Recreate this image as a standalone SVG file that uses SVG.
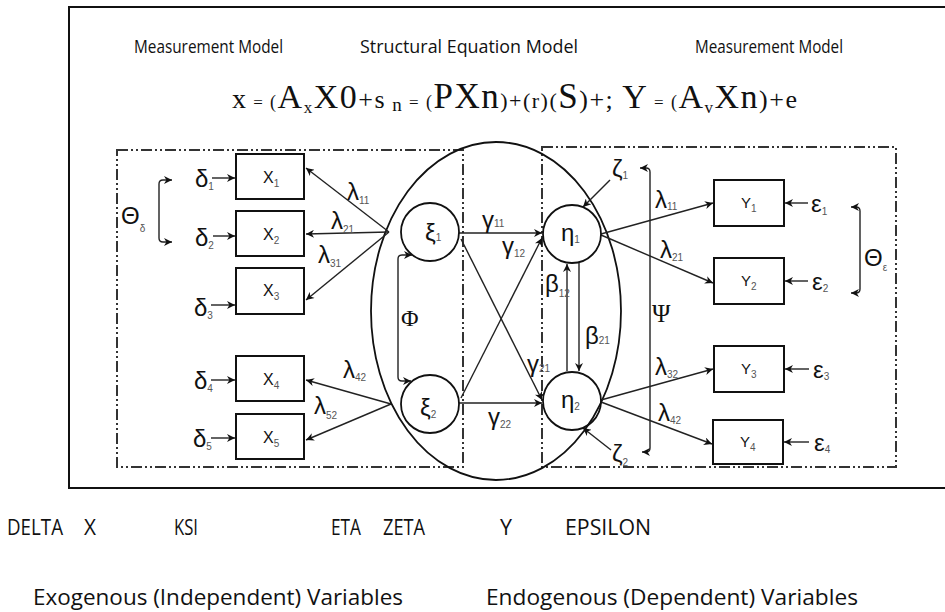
<svg xmlns="http://www.w3.org/2000/svg" width="945" height="612" viewBox="0 0 945 612">
<defs>
<style>
.frame{fill:none;stroke:#111;stroke-width:2}
.dash{fill:none;stroke:#333;stroke-width:2;stroke-dasharray:11 3 2 3 2 3}
.box{fill:none;stroke:#111;stroke-width:2}
.circ{fill:none;stroke:#111;stroke-width:1.8}
.ell{fill:none;stroke:#111;stroke-width:1.8}
.edge{fill:none;stroke:#222;stroke-width:1.4}
.arr{marker-end:url(#ah)}
.both{marker-start:url(#ah);marker-end:url(#ah)}
.t{font-family:"Liberation Sans",Arial,sans-serif;fill:#111}
.g{font-family:"Liberation Sans",Arial,sans-serif;fill:#111;font-size:24px}
.cap{font-family:"Open Sans","Noto Sans",sans-serif;fill:#111}
.eq{font-family:"Liberation Serif","Times New Roman",serif;fill:#111}
.sub{font-family:"Liberation Sans",Arial,sans-serif;font-size:10px;fill:#555}
</style>
<marker id="ah" viewBox="0 0 10 10" refX="10" refY="5" markerWidth="9" markerHeight="8" markerUnits="userSpaceOnUse" orient="auto-start-reverse">
<path d="M0,0 L10,5 L0,10 L3,5 z" fill="#111"/>
</marker>
</defs>

<rect x="69" y="7" width="885" height="481" class="frame"/>

<g id="headings">
<text class="cap" x="134" y="53" font-size="18" textLength="149" lengthAdjust="spacingAndGlyphs">Measurement Model</text>
<text class="cap" x="360" y="53" font-size="18" textLength="218" lengthAdjust="spacingAndGlyphs">Structural Equation Model</text>
<text class="cap" x="695" y="53" font-size="18" textLength="148" lengthAdjust="spacingAndGlyphs">Measurement Model</text>
<text class="eq" x="232" y="108" textLength="565" lengthAdjust="spacing"><tspan font-size="28">x</tspan><tspan font-size="17"> = </tspan><tspan font-size="18">(</tspan><tspan font-size="34">A</tspan><tspan font-size="17" dy="5">x</tspan><tspan font-size="34" dy="-5">X0</tspan><tspan font-size="26">+s</tspan><tspan font-size="19" dy="3"> n</tspan><tspan font-size="17" dy="-3"> = </tspan><tspan font-size="18">(</tspan><tspan font-size="35">PXn</tspan><tspan font-size="22">)+(r)(</tspan><tspan font-size="35">S</tspan><tspan font-size="26">)+; </tspan><tspan font-size="34">Y</tspan><tspan font-size="17"> = </tspan><tspan font-size="18">(</tspan><tspan font-size="34">A</tspan><tspan font-size="17" dy="5">v</tspan><tspan font-size="34" dy="-5">Xn</tspan><tspan font-size="26">)+e</tspan></text>
</g>

<g id="regions">
<rect x="117" y="150" width="346" height="317" class="dash"/>
<rect x="542" y="147" width="354" height="320" class="dash"/>
<ellipse cx="496" cy="311" rx="125" ry="169" class="ell"/>
</g>

<g id="connectors">
<path class="edge arr" d="M212,178 L235,178"/>
<path class="edge arr" d="M213,236 L235,236"/>
<path class="edge arr" d="M211,305 L235,305"/>
<path class="edge arr" d="M211,380 L235,380"/>
<path class="edge arr" d="M211,438 L235,438"/>
<path class="edge both" d="M172,180 L163,180 Q159,180 159,184 L159,238 Q159,242 163,242 L172,242"/>
<path class="edge arr" d="M389,232 L306,168"/>
<path class="edge arr" d="M389,232 L306,234"/>
<path class="edge arr" d="M389,232 L306,300"/>
<path class="edge arr" d="M391,404 L306,380"/>
<path class="edge arr" d="M391,404 L306,440"/>
<path class="edge both" d="M412,255 L402,255 Q398,255 398,259 L398,377 Q398,381 402,381 L411,381"/>
<path class="edge arr" d="M459,233 L542,233"/>
<path class="edge arr" d="M459,403 L542,403"/>
<path class="edge arr" d="M461,239 L542,400"/>
<path class="edge arr" d="M461,398 L542,238"/>
<path class="edge arr" d="M567,371 L567,264"/>
<path class="edge arr" d="M579,263 L579,371"/>
<path class="edge arr" d="M610,180 L583,207"/>
<path class="edge arr" d="M611,450 L583,428"/>
<path class="edge both" d="M640,168 L646,168 Q650,168 650,172 L650,448 Q650,452 646,452 L642,452"/>
<path class="edge arr" d="M601,234 L713,203"/>
<path class="edge arr" d="M601,235 L713,283"/>
<path class="edge arr" d="M601,400 L713,369"/>
<path class="edge arr" d="M601,402 L712,444"/>
<path class="edge arr" d="M808,203 L785,203"/>
<path class="edge arr" d="M808,281 L785,281"/>
<path class="edge arr" d="M809,369 L785,369"/>
<path class="edge arr" d="M809,442 L784,442"/>
<path class="edge both" d="M851,207 L856,207 Q860,207 860,211 L860,289 Q860,293 856,293 L851,293"/>
</g>

<g id="connector-labels">
<text class="g" x="121" y="224" font-size="25">Θ<tspan class="sub" font-size="13" dy="8">δ</tspan></text>
<text class="g" x="347" y="200" font-size="23">λ<tspan class="sub" dy="4">11</tspan></text>
<text class="g" x="331" y="229" font-size="23">λ<tspan class="sub" dy="4">21</tspan></text>
<text class="g" x="318" y="263" font-size="23">λ<tspan class="sub" dy="4">31</tspan></text>
<text class="g" x="343" y="378" font-size="23">λ<tspan class="sub" dy="3">42</tspan></text>
<text class="g" x="314" y="414" font-size="23">λ<tspan class="sub" dy="5">52</tspan></text>
<text class="eq" x="401" y="326" font-size="24">Φ</text>
<text class="g" x="482" y="228" font-size="22">γ<tspan class="sub" dy="-1">11</tspan></text>
<text class="g" x="502" y="254" font-size="22">γ<tspan class="sub" dy="3">12</tspan></text>
<text class="g" x="527" y="372" font-size="22">γ<tspan class="sub" dy="0">21</tspan></text>
<text class="g" x="488" y="425" font-size="22">γ<tspan class="sub" dy="3">22</tspan></text>
<text class="g" x="545" y="292" font-size="23">β<tspan class="sub" dy="5">12</tspan></text>
<text class="g" x="585" y="344" font-size="23">β<tspan class="sub" dy="0">21</tspan></text>
<text class="g" x="612" y="177" font-size="22">ζ<tspan class="sub" font-size="7" dy="2">1</tspan></text>
<text class="g" x="612" y="462" font-size="22">ζ<tspan class="sub" dy="4">2</tspan></text>
<text class="eq" x="652" y="322" font-size="25">Ψ</text>
<text class="g" x="655" y="208" font-size="23">λ<tspan class="sub" dy="2">11</tspan></text>
<text class="g" x="660" y="258" font-size="23">λ<tspan class="sub" dy="3">21</tspan></text>
<text class="g" x="655" y="375" font-size="23">λ<tspan class="sub" dy="3">32</tspan></text>
<text class="g" x="658" y="421" font-size="23">λ<tspan class="sub" dy="3">42</tspan></text>
<text class="g" x="864" y="266" font-size="25">Θ<tspan class="sub" font-size="13" dy="5">ε</tspan></text>
</g>

<g id="delta1"><text class="g" x="195" y="187">δ<tspan class="sub" dy="3">1</tspan></text></g>
<g id="delta2"><text class="g" x="195" y="246">δ<tspan class="sub" dy="3">2</tspan></text></g>
<g id="delta3"><text class="g" x="194" y="316">δ<tspan class="sub" dy="3">3</tspan></text></g>
<g id="delta4"><text class="g" x="194" y="389">δ<tspan class="sub" dy="3">4</tspan></text></g>
<g id="delta5"><text class="g" x="193" y="447">δ<tspan class="sub" dy="3">5</tspan></text></g>

<g id="x1"><rect class="box" x="236" y="154" width="68" height="45"/><text class="t" x="263" y="183" font-size="16">X<tspan class="sub" font-size="9" dy="4">1</tspan></text></g>
<g id="x2"><rect class="box" x="236" y="211" width="68" height="45"/><text class="t" x="263" y="240" font-size="16">X<tspan class="sub" font-size="9" dy="4">2</tspan></text></g>
<g id="x3"><rect class="box" x="236" y="268" width="68" height="46"/><text class="t" x="263" y="296" font-size="16">X<tspan class="sub" font-size="9" dy="4">3</tspan></text></g>
<g id="x4"><rect class="box" x="236" y="356" width="68" height="45"/><text class="t" x="263" y="385" font-size="16">X<tspan class="sub" font-size="9" dy="4">4</tspan></text></g>
<g id="x5"><rect class="box" x="236" y="414" width="68" height="45"/><text class="t" x="263" y="443" font-size="16">X<tspan class="sub" font-size="9" dy="4">5</tspan></text></g>

<g id="ksi1"><circle class="circ" cx="430" cy="232" r="29"/><text class="g" x="425" y="241">ξ<tspan class="sub" font-size="7" dy="0">1</tspan></text></g>
<g id="ksi2"><circle class="circ" cx="430" cy="404" r="29"/><text class="g" x="420" y="416">ξ<tspan class="sub" font-size="8" dy="2">2</tspan></text></g>
<g id="eta1"><circle class="circ" cx="572" cy="234" r="29"/><text class="g" x="561" y="241">η<tspan class="sub" dy="2">1</tspan></text></g>
<g id="eta2"><circle class="circ" cx="572" cy="401" r="29"/><text class="g" x="561" y="408">η<tspan class="sub" dy="2">2</tspan></text></g>

<g id="y1"><rect class="box" x="714" y="180" width="70" height="46"/><text class="t" x="741" y="208" font-size="15">Y<tspan class="sub" font-size="9" dy="4">1</tspan></text></g>
<g id="y2"><rect class="box" x="714" y="258" width="70" height="46"/><text class="t" x="741" y="286" font-size="15">Y<tspan class="sub" font-size="9" dy="4">2</tspan></text></g>
<g id="y3"><rect class="box" x="714" y="346" width="70" height="46"/><text class="t" x="741" y="374" font-size="15">Y<tspan class="sub" font-size="9" dy="4">3</tspan></text></g>
<g id="y4"><rect class="box" x="713" y="420" width="70" height="44"/><text class="t" x="740" y="447" font-size="15">Y<tspan class="sub" font-size="9" dy="4">4</tspan></text></g>

<g id="eps1"><text class="g" x="811" y="212" font-size="27">ε<tspan class="sub" dy="3">1</tspan></text></g>
<g id="eps2"><text class="g" x="812" y="290" font-size="27">ε<tspan class="sub" dy="2">2</tspan></text></g>
<g id="eps3"><text class="g" x="813" y="378" font-size="27">ε<tspan class="sub" dy="2">3</tspan></text></g>
<g id="eps4"><text class="g" x="814" y="451" font-size="27">ε<tspan class="sub" dy="2">4</tspan></text></g>

<g id="legend">
<text class="cap" x="7" y="535" font-size="21" textLength="56" lengthAdjust="spacingAndGlyphs">DELTA</text>
<text class="cap" x="84" y="535" font-size="21" textLength="12" lengthAdjust="spacingAndGlyphs">X</text>
<text class="cap" x="174" y="535" font-size="21" textLength="24" lengthAdjust="spacingAndGlyphs">KSI</text>
<text class="cap" x="331" y="535" font-size="21" textLength="30" lengthAdjust="spacingAndGlyphs">ETA</text>
<text class="cap" x="383" y="535" font-size="21" textLength="42" lengthAdjust="spacingAndGlyphs">ZETA</text>
<text class="cap" x="500" y="535" font-size="21" textLength="12" lengthAdjust="spacingAndGlyphs">Y</text>
<text class="cap" x="565" y="535" font-size="21" textLength="86" lengthAdjust="spacingAndGlyphs">EPSILON</text>
<text class="cap" x="33" y="605" font-size="22" textLength="370" lengthAdjust="spacingAndGlyphs">Exogenous (Independent) Variables</text>
<text class="cap" x="486" y="605" font-size="22" textLength="372" lengthAdjust="spacingAndGlyphs">Endogenous (Dependent) Variables</text>
</g>
</svg>
